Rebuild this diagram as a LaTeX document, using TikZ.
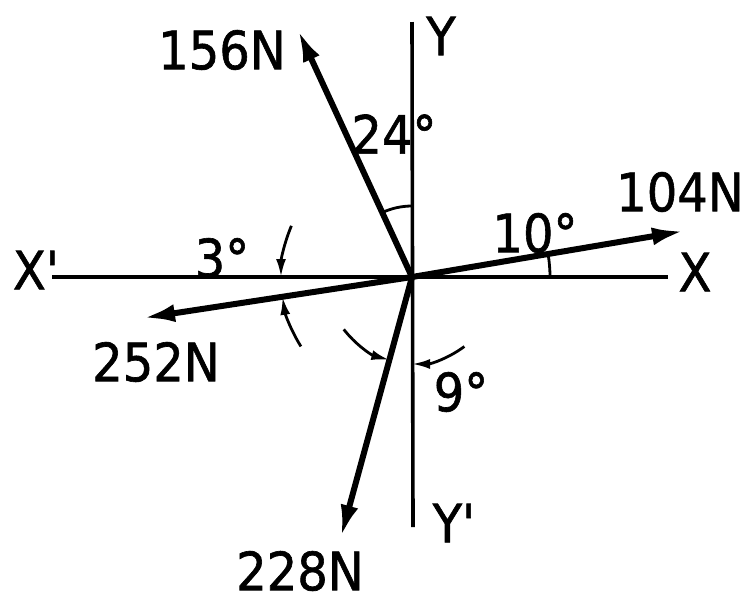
\documentclass[tikz,border=0pt]{standalone}
\usepackage{graphicx}
\usepackage{fontspec}
\newfontfamily\lab{DejaVu Sans}[FakeBold=1.2]
\usetikzlibrary{arrows.meta}
\newcommand\lbltext[1]{\scalebox{1}[1.1]{#1}}
\begin{document}
\begin{tikzpicture}[x=1pt,y=-1pt,
  axis/.style={line width=3.6pt},
  force/.style={line width=6pt,-{Latex[length=32pt,width=18pt]}},
  ang/.style={line width=2.8pt},
  angarrow/.style={line width=2.8pt,-{Latex[length=18pt,width=10pt]}},
  lbl/.style={font=\lab\fontsize{48}{48}\selectfont,inner sep=0pt}]
\useasboundingbox (0,0) rectangle (749,603);
% origin and axis ends
\coordinate (O) at (412,277);
\coordinate (Xl) at (52,277);
\coordinate (Xr) at (668,277);
\coordinate (Yt) at (412,22);
\coordinate (Yb) at (413,527);
% force tips
\coordinate (F156) at (298,30);
\coordinate (F104) at (684,231);
\coordinate (F252) at (143,318);
\coordinate (F228) at (341,537);
% axes
\draw[axis] (Xl) -- (Xr);
\draw[axis] (Yt) -- (Yb);
% forces
\draw[force] (O) -- (F156);
\draw[force] (O) -- (F104);
\draw[force] (O) -- (F252);
\draw[force] (O) -- (F228);
% angle marks
\draw[ang] ([shift={(-114.8:71)}]O) arc[start angle=-114.8,end angle=-90,radius=71];
\draw[ang] ([shift={(-9.4:138)}]O) arc[start angle=-9.4,end angle=0,radius=138];
\draw[angarrow] ([shift={(203:131)}]O) arc[start angle=203,end angle=180,radius=131];
\draw[angarrow] ([shift={(148:131)}]O) arc[start angle=148,end angle=171.3,radius=131];
\draw[angarrow] ([shift={(142.5:86)}]O) arc[start angle=142.5,end angle=105.3,radius=86];
\draw[angarrow] ([shift={(53:87)}]O) arc[start angle=53,end angle=90,radius=87];
% labels
\node[lbl] (l156) at (222,50) {\lbltext{156N}};
\node[lbl] (l104) at (680,192) {\lbltext{104N}};
\node[lbl] (l252) at (156,362) {\lbltext{252N}};
\node[lbl] (l228) at (300,571) {\lbltext{228N}};
\node[lbl] (lX) at (695,272) {\lbltext{X}};
\node[lbl] (lXp) at (36,270) {\lbltext{X'}};
\node[lbl] (lY) at (441,36) {\lbltext{Y}};
\node[lbl] (lYp) at (454,523) {\lbltext{Y'}};
\node[lbl] (l24) at (394,134) {\lbltext{24°}};
\node[lbl] (l10) at (535,233) {\lbltext{10°}};
\node[lbl] (l3) at (222,258) {\lbltext{3°}};
\node[lbl] (l9) at (461,392) {\lbltext{9°}};
\end{tikzpicture}
\end{document}
